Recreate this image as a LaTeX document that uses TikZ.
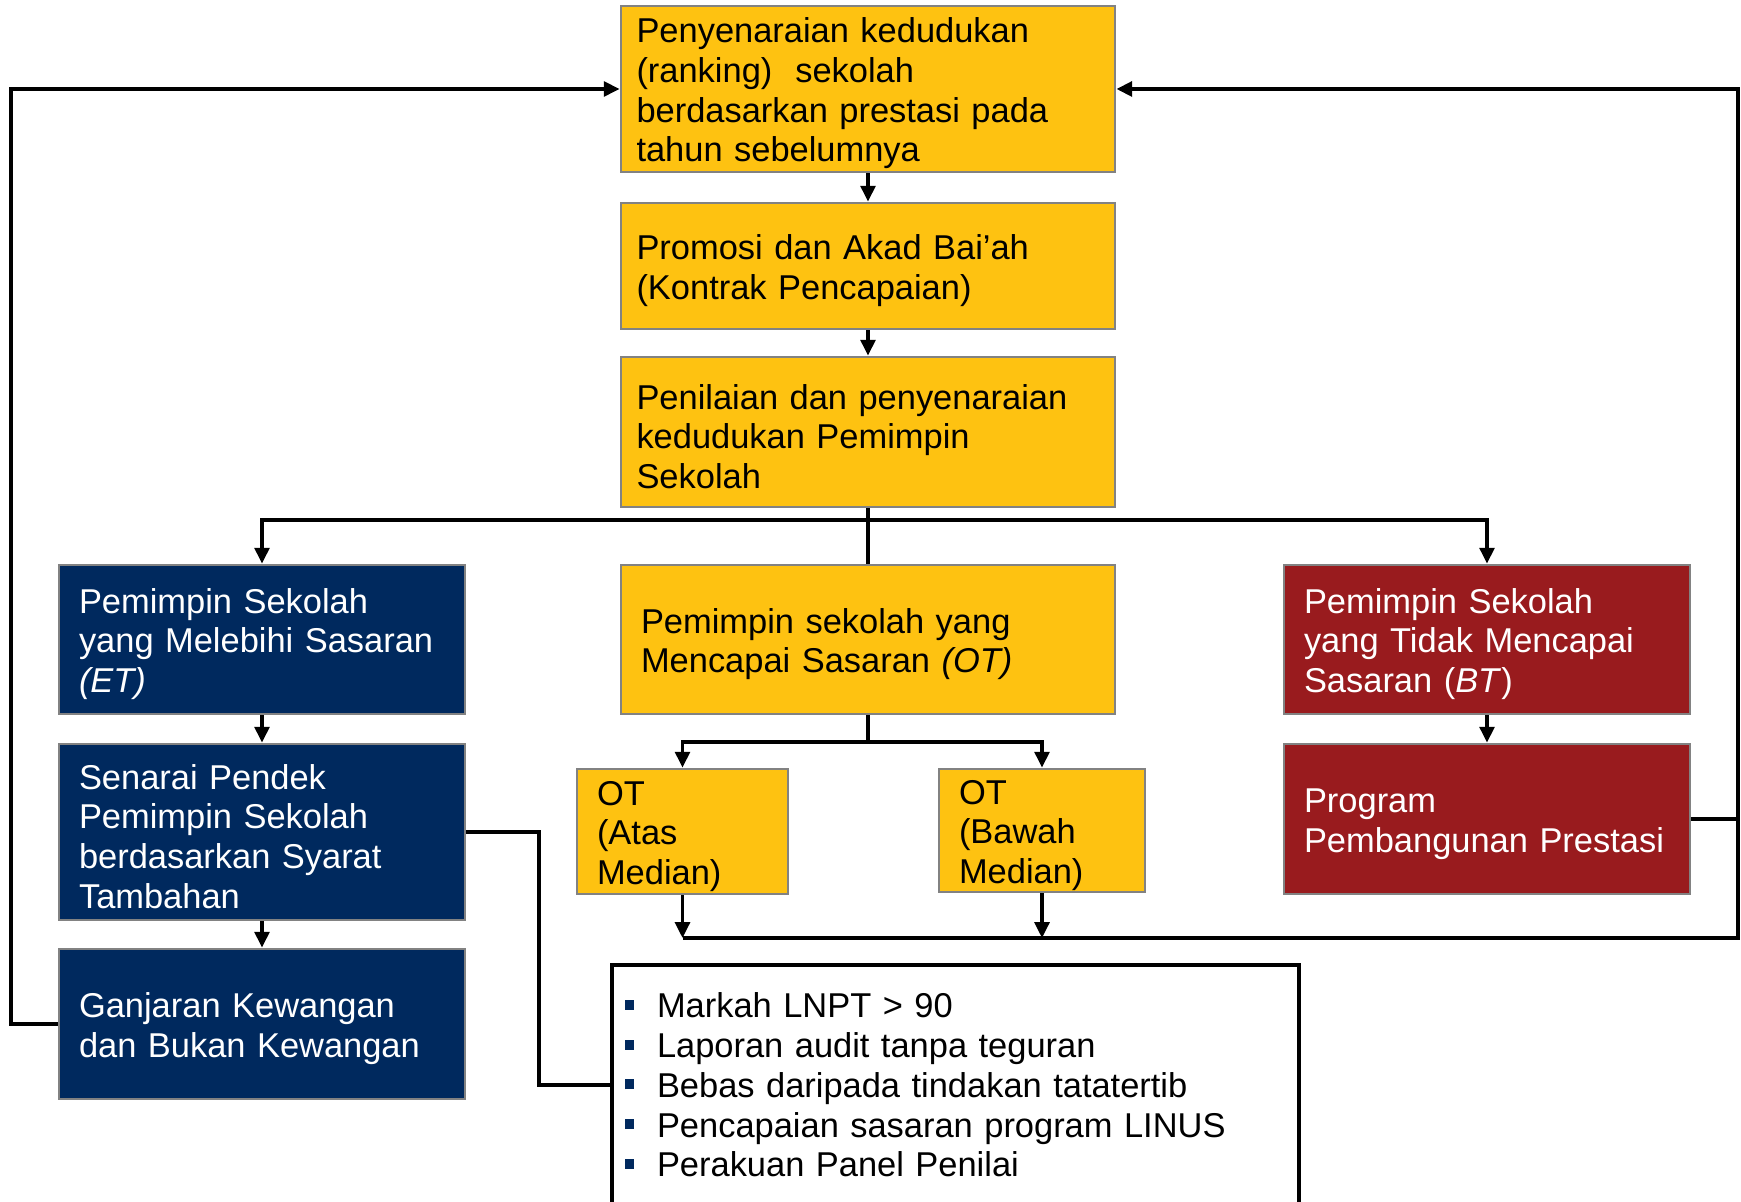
\documentclass[tikz,border=0pt]{standalone}
\usepackage{fontspec}
\setmainfont{Liberation Sans}
\usetikzlibrary{positioning, arrows.meta}

\definecolor{boxyellow}{RGB}{254,194,17}
\definecolor{boxnavy}{RGB}{0,41,94}
\definecolor{boxred}{RGB}{153,27,30}
\definecolor{boxedge}{RGB}{130,130,130}
\newcommand{\critbullet}{\makebox[0.32cm][l]{\textcolor{boxnavy}{\rule[0.08cm]{0.09cm}{0.10cm}}}}

\begin{document}
\begin{tikzpicture}[
  box/.style={draw=boxedge, line width=0.8pt, align=left, inner ysep=0pt, inner xsep=0.2cm,
              font=\fontsize{9.8pt}{11.3pt}\selectfont,
              execute at begin node={\rule{0pt}{0.34cm}}},
  ybox/.style={box, fill=boxyellow, text=black},
  nbox/.style={box, fill=boxnavy, text=white},
  rbox/.style={box, fill=boxred, text=white},
  conn/.style={black, line width=1pt},
  arr/.style={conn, -{Triangle[length=4.5pt, width=4.2pt]}},
]
  \useasboundingbox (0,0) rectangle (17.41,-12.02);
  \fill[white] (0,0) rectangle (17.41,-12.02);

  % Main column
  \node[ybox, inner xsep=0.155cm, text width=4.63cm, minimum height=1.66cm] (rank) at (8.68,-0.89)
    {Penyenaraian kedudukan\\(ranking)\ \ sekolah\\berdasarkan prestasi pada\\tahun sebelumnya};
  \node[ybox, inner xsep=0.155cm, text width=4.63cm, minimum height=1.26cm] (promo) at (8.68,-2.66)
    {Promosi dan Akad Bai’ah\\(Kontrak Pencapaian)};
  \node[ybox, inner xsep=0.155cm, text width=4.63cm, minimum height=1.50cm] (nilai) at (8.68,-4.32)
    {Penilaian dan penyenaraian\\kedudukan Pemimpin\\Sekolah};

  % Three outcomes
  \node[nbox, text width=3.66cm, minimum height=1.49cm] (et) at (2.62,-6.395)
    {Pemimpin Sekolah\\yang Melebihi Sasaran\\\textit{(ET)}};
  \node[ybox, text width=4.54cm, minimum height=1.49cm] (ot) at (8.68,-6.395)
    {Pemimpin sekolah yang\\Mencapai Sasaran \textit{(OT)}};
  \node[rbox, text width=3.66cm, minimum height=1.49cm] (bt) at (14.87,-6.395)
    {Pemimpin Sekolah\\yang Tidak Mencapai\\Sasaran (\textit{BT})};

  % Left branch
  \node[nbox, text width=3.66cm, minimum height=1.76cm] (senarai) at (2.62,-8.32)
    {Senarai Pendek\\Pemimpin Sekolah\\berdasarkan Syarat\\Tambahan};
  \node[nbox, text width=3.66cm, minimum height=1.50cm] (ganjaran) at (2.62,-10.24)
    {Ganjaran Kewangan\\dan Bukan Kewangan};

  % Middle branch
  \node[ybox, text width=1.71cm, minimum height=1.25cm] (ota) at (6.825,-8.315) {OT\\(Atas\\Median)};
  \node[ybox, text width=1.66cm, minimum height=1.23cm] (otb) at (10.42,-8.305) {OT\\(Bawah\\Median)};

  % Right branch
  \node[rbox, text width=3.66cm, minimum height=1.50cm] (program) at (14.87,-8.19)
    {Program\\Pembangunan Prestasi};

  % Criteria list
  \node[draw=black, line width=1pt, fill=white, align=left, inner ysep=0pt, inner xsep=0.13cm,
        text width=6.61cm, minimum height=2.40cm, font=\fontsize{9.8pt}{11.3pt}\selectfont] (syarat) at (9.555,-10.85)
    {\critbullet Markah LNPT > 90\\
     \critbullet Laporan audit tanpa teguran\\
     \critbullet Bebas daripada tindakan tatatertib\\
     \critbullet Pencapaian sasaran program LINUS\\
     \critbullet Perakuan Panel Penilai};

  % Routing points
  \coordinate (branch) at (8.68,-5.20);
  \coordinate (split) at (8.68,-7.42);
  \coordinate (bot) at (0,-9.38);
  \coordinate (rgt) at (17.38,0);
  \coordinate (lft) at (0.11,0);
  \coordinate (mid) at (5.39,0);

  % Connectors
  \foreach \a/\b in {rank/promo, promo/nilai, et/senarai, senarai/ganjaran, bt/program} {
    \draw[arr] (\a.south) -- (\b.north);
  }
  \draw[conn, line width=1.3pt] (nilai.south) -- (ot.north);
  \draw[arr] (branch) -| (et.north);
  \draw[arr] (branch) -| (bt.north);

  \draw[conn] (ot.south) -- (split);
  \draw[arr] (split) -| (ota.north);
  \draw[arr] (split) -| (otb.north);
  \draw[arr] (ota.south) -- (ota.south |- bot);
  \draw[arr] (otb.south) -- (otb.south |- bot);

  % Feedback loops
  \draw[arr, line width=1.3pt] (ota.south |- bot) -| (rgt |- rank.east) -- (rank.east);
  \draw[conn] (program.east) -- (program.east -| rgt);
  \draw[arr] (ganjaran.west) -| (lft |- rank.west) -- (rank.west);
  \draw[conn, line width=1.2pt] (senarai.east) -- (senarai.east -| mid) |- (syarat.west);

\end{tikzpicture}
\end{document}
